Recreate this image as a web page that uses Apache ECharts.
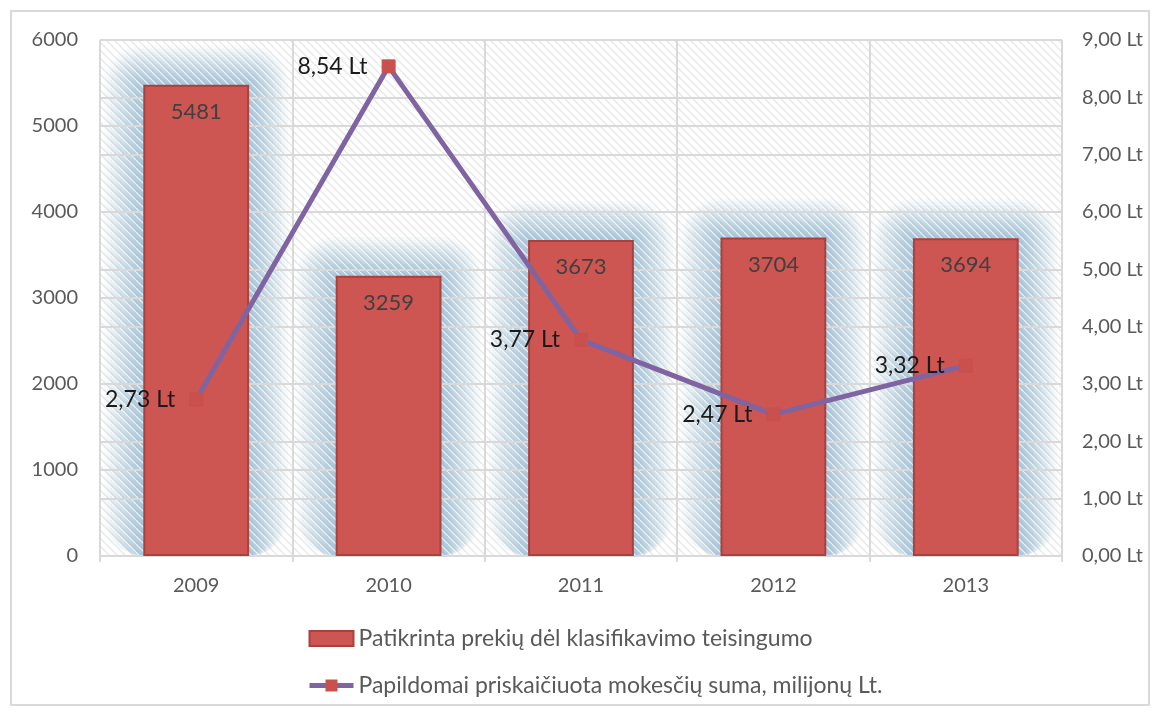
<!DOCTYPE html>
<html>
<head>
<meta charset="utf-8">
<script src="https://cdn.jsdelivr.net/npm/echarts@6/dist/echarts.min.js"></script>
<style>
  html, body { margin: 0; padding: 0; background: #fff; }
  #frame { position: absolute; left: 10px; top: 10px; width: 1140px; height: 696px; border: 2px solid #d9d9d9; box-sizing: border-box; }
  #chart { position: absolute; left: 0; top: 0; width: 1152px; height: 715px; }
</style>
</head>
<body>
<div id="frame"></div>
<div id="chart"></div>
<script>
  const years = ['2009', '2010', '2011', '2012', '2013'];
  const checkedGoods = [5481, 3259, 3673, 3704, 3694];
  const extraTax = [2.73, 8.54, 3.77, 2.47, 3.32];
  const barName = 'Patikrinta prekių dėl klasifikavimo teisingumo';
  const lineName = 'Papildomai priskaičiuota mokesčių suma, milijonų Lt.';

  const fmtLt = v => v.toFixed(2).replace('.', ',') + ' Lt';

  // transparent hatch laid over the plot area (and the glow)
  const pat = document.createElement('canvas');
  pat.width = 8; pat.height = 8;
  const pc = pat.getContext('2d');
  function diag(ctx, off) {
    ctx.beginPath();
    ctx.moveTo(0 + off, 0); ctx.lineTo(8 + off, 8);
    ctx.moveTo(-8 + off, 0); ctx.lineTo(0 + off, 8);
    ctx.moveTo(8 + off, 0); ctx.lineTo(16 + off, 8);
    ctx.stroke();
  }
  pc.lineWidth = 1.3;
  pc.strokeStyle = 'rgba(255,255,255,0.7)';
  diag(pc, 0);
  pc.strokeStyle = 'rgba(170,170,170,0.28)';
  diag(pc, 2);

  const font = 'Lato, "Open Sans", sans-serif';
  const gridLine = {color: '#d9d9d9', width: 2};

  const G = {left: 100, right: 90, top: 40, bottom: 159};

  // soft glow: nested translucent rects around each bar
  function renderGlow(params, api) {
    const top = api.coord([api.value(0), api.value(1)]);
    const base = api.coord([api.value(0), 0]);
    const bw = api.size([1, 0])[0] * 0.55;
    const children = [];
    for (let i = 1; i <= 13; i++) {
      const e = i * 3;
      children.push({
        type: 'rect',
        shape: {x: top[0] - bw / 2 - e, y: top[1] - e, width: bw + 2 * e, height: base[1] - top[1] + e, r: e},
        style: {fill: 'rgba(79,129,189,0.042)'}
      });
    }
    return {type: 'group', children: children};
  }

  const chart = echarts.init(document.getElementById('chart'));
  chart.setOption({
    animation: false,
    textStyle: {fontFamily: font},
    grid: {
      left: G.left, right: G.right, top: G.top, bottom: G.bottom,
      show: true,
      borderWidth: 0,
      backgroundColor: '#ffffff'
    },
    graphic: [{
      type: 'rect',
      silent: true,
      z: 2,
      shape: {x: G.left, y: G.top, width: 1152 - G.left - G.right, height: 715 - G.top - G.bottom},
      style: {fill: {image: pat, repeat: 'repeat'}}
    }],
    legend: {
      orient: 'vertical',
      left: 302,
      top: 622,
      itemGap: 24,
      itemWidth: 44,
      itemHeight: 15,
      textStyle: {fontSize: 23, color: '#595959', fontFamily: font},
      data: [
        {name: barName, icon: 'rect'},
        {name: lineName, lineStyle: {width: 5}}
      ]
    },
    xAxis: {
      type: 'category',
      data: years,
      z: 2,
      axisLine: {lineStyle: gridLine},
      axisTick: {show: true, length: 6, lineStyle: gridLine},
      axisLabel: {fontSize: 20, color: '#595959', margin: 20},
      splitLine: {show: true, lineStyle: gridLine}
    },
    yAxis: [
      {
        type: 'value', min: 0, max: 6000, interval: 1000,
        z: 2,
        axisLine: {show: false}, axisTick: {show: false},
        axisLabel: {fontSize: 20, color: '#595959', margin: 22, formatter: v => String(v)},
        splitLine: {lineStyle: gridLine}
      },
      {
        type: 'value', min: 0, max: 9, interval: 1,
        z: 2,
        axisLine: {show: false}, axisTick: {show: false},
        axisLabel: {fontSize: 20, color: '#595959', margin: 20, formatter: v => fmtLt(v)},
        splitLine: {show: true, lineStyle: gridLine}
      }
    ],
    series: [
      {
        name: 'glow',
        type: 'custom',
        z: 1,
        silent: true,
        renderItem: renderGlow,
        encode: {x: 0, y: 1},
        data: checkedGoods.map((v, i) => [i, v])
      },
      {
        name: barName,
        type: 'bar',
        data: checkedGoods,
        barWidth: '55%',
        z: 3,
        itemStyle: {
          color: '#cd5552',
          borderColor: '#a9423f',
          borderWidth: 2
        },
        label: {
          show: true, position: 'insideTop', distance: 16,
          fontSize: 22, color: '#404040', fontFamily: font
        }
      },
      {
        name: lineName,
        type: 'line',
        yAxisIndex: 1,
        data: extraTax,
        z: 5,
        symbol: 'rect',
        symbolSize: 13,
        lineStyle: {color: '#8064a2', width: 5},
        itemStyle: {color: '#c9504d', borderColor: '#c9504d'},
        label: {
          show: true, position: 'left', distance: 14,
          fontSize: 23, color: '#1a1a1a', fontFamily: font,
          formatter: p => fmtLt(p.value)
        }
      }
    ]
  });
</script>
</body>
</html>
